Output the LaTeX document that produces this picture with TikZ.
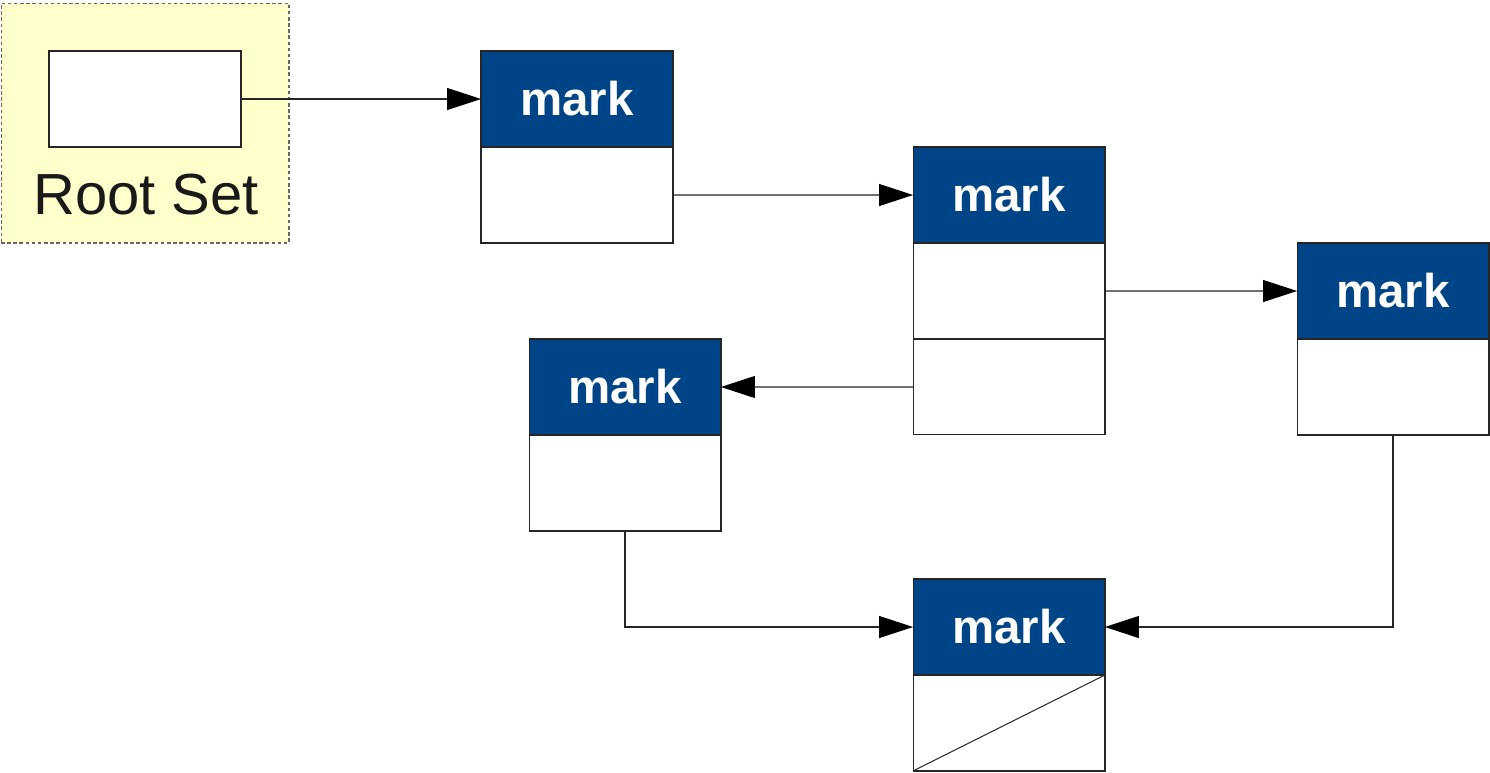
\documentclass[tikz,border=0pt]{standalone}
\usepackage{fontspec}
\setmainfont{Liberation Sans}
\usepackage{tikz}
\usetikzlibrary{arrows.meta,positioning}

\definecolor{markblue}{RGB}{0,68,136}
\definecolor{rootyellow}{RGB}{255,255,204}

\begin{document}
\begin{tikzpicture}[
    x=0.02cm, y=-0.02cm,
    node distance=0pt,
    header/.style={rectangle, draw=black!85, fill=markblue, text=white, font=\fontsize{27}{31}\selectfont\bfseries, minimum width=3.84cm, minimum height=1.92cm, inner sep=0pt, outer sep=0pt, line width=0.6pt},
    field/.style={rectangle, draw=black!85, fill=white, minimum width=3.84cm, minimum height=1.92cm, inner sep=0pt, outer sep=0pt, line width=0.6pt},
    line/.style={draw, black!85, line width=0.6pt, -{Triangle[length=0.68cm, width=0.44cm, color=black]}}
]
    \useasboundingbox (0,0) rectangle (1490,772);

    % root set
    \node [rectangle, draw=black!60, fill=rootyellow, dash pattern=on 2pt off 1.5pt, line width=0.6pt, minimum width=5.76cm, minimum height=4.8cm, inner sep=0pt] (root) at (145,123) {};
    \node [field] (rootref) at (145,99) {};
    \node [text=black!90, font=\fontsize{33}{38}\selectfont, inner sep=0pt] (rootlabel) at (146,195) {Root Set};

    % objects
    \node [header] (hA) at (577,99) {mark};
    \node [field, below=of hA] (fA) {};

    \node [header] (hB) at (1009,195) {mark};
    \node [field, below=of hB] (fB1) {};
    \node [field, below=of fB1] (fB2) {};

    \node [header] (hC) at (1393,291) {mark};
    \node [field, below=of hC] (fC) {};

    \node [header] (hD) at (625,387) {mark};
    \node [field, below=of hD] (fD) {};

    \node [header] (hE) at (1009,627) {mark};
    \node [field, below=of hE] (fE) {};
    \draw [black!85, line width=0.6pt] (fE.south west) -- (fE.north east);

    % references
    \draw [line] (rootref.east) -- (hA.west);
    \draw [line] (fA.east) -- (hB.west);
    \draw [line] (fB1.east) -- (hC.west);
    \draw [line] (fB2.west) -- (hD.east);
    \draw [line] (fD.south) |- (hE.west);
    \draw [line] (fC.south) |- (hE.east);
\end{tikzpicture}
\end{document}
